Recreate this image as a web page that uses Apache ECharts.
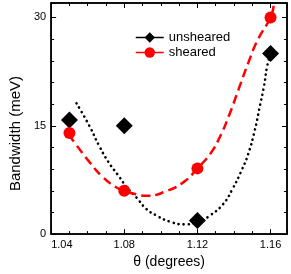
<!DOCTYPE html>
<html>
<head>
<meta charset="utf-8">
<script src="https://cdn.jsdelivr.net/npm/echarts@6/dist/echarts.min.js"></script>
<style>
html,body{margin:0;padding:0;background:#fff;}
#c{width:291px;height:274px;}
</style>
</head>
<body>
<div id="c"></div>
<script>
// Measured points
const unshearedX = [1.05, 1.08, 1.12, 1.16];
const unshearedY = [15.8, 15.0, 1.9, 25.0];
const shearedX = [1.05, 1.08, 1.12, 1.16];
const shearedY = [14.0, 6.0, 9.1, 30.0];

// Fit curves
const unshearedFitX = [1.0539, 1.0609, 1.0661, 1.0713, 1.0765, 1.0817, 1.0869, 1.0920, 1.0974, 1.1052, 1.1130, 1.1200, 1.1270, 1.1339, 1.1391, 1.1443, 1.1478, 1.1513, 1.1539, 1.1565, 1.1582, 1.1600];
const unshearedFitY = [18.1, 15.0, 12.3, 10.0, 8.2, 6.4, 5.0, 3.5, 2.6, 1.7, 1.35, 1.6, 2.6, 4.1, 6.2, 8.9, 11.1, 14.3, 17.4, 20.6, 23.3, 24.9];
const shearedFitX = [1.0496, 1.0539, 1.0609, 1.0678, 1.0748, 1.0800, 1.0869, 1.0920, 1.1025, 1.1130, 1.1200, 1.1270, 1.1322, 1.1374, 1.1426, 1.1478, 1.1530, 1.1600, 1.1617];
const shearedFitY = [13.8, 12.3, 10.0, 8.0, 6.6, 6.0, 5.5, 5.3, 5.9, 7.3, 9.1, 11.1, 13.4, 16.5, 20.1, 23.7, 26.9, 30.0, 31.6];

const seriesNames = ['unsheared', 'sheared'];
const xTickLabels = ['1.04', '1.08', '1.12', '1.16'];
const yTickLabels = ['0', '15', '30'];

const zip = (xs, ys) => xs.map((x, i) => [x, ys[i]]);

const XMIN = 1.04, XMAX = 1.169, YMIN = 0, YMAX = 32;
const font = 'Liberation Sans, Arial, sans-serif';

function xAx(pos, labels) {
  return {
    type: 'value', show: true, position: pos, min: XMIN, max: XMAX, interval: 0.04,
    axisLine: { show: true, onZero: false, lineStyle: { color: '#000', width: 1.5 } },
    axisTick: { show: true, inside: true, length: 5, lineStyle: { color: '#000', width: 1 } },
    minorTick: { show: true, splitNumber: 4, length: 3, lineStyle: { color: '#000', width: 1 } },
    axisLabel: {
      show: labels, color: '#000', fontFamily: font, fontSize: 11, margin: 5,
      showMaxLabel: false, alignMinLabel: 'left',
      formatter: v => { const s = v.toFixed(2); return xTickLabels.indexOf(s) >= 0 ? s : ''; }
    },
    splitLine: { show: false },
    name: labels ? 'θ (degrees)' : '', nameLocation: 'middle', nameGap: 19,
    nameTextStyle: { color: '#000', fontFamily: font, fontSize: 14 }
  };
}
function yAx(pos, labels) {
  return {
    type: 'value', show: true, position: pos, min: YMIN, max: YMAX, interval: 15,
    axisLine: { show: true, onZero: false, lineStyle: { color: '#000', width: 1.5 } },
    axisTick: { show: true, inside: true, length: 5, lineStyle: { color: '#000', width: 1 } },
    minorTick: { show: true, splitNumber: 5, length: 3, lineStyle: { color: '#000', width: 1 } },
    axisLabel: {
      show: labels, color: '#000', fontFamily: font, fontSize: 11, margin: 5,
      showMaxLabel: false,
      formatter: v => { const s = String(Math.round(v)); return (yTickLabels.indexOf(s) >= 0 && Math.abs(v - Math.round(v)) < 1e-6) ? s : ''; }
    },
    splitLine: { show: false },
    name: labels ? 'Bandwidth (meV)' : '', nameLocation: 'middle', nameGap: 22,
    nameTextStyle: { color: '#000', fontFamily: font, fontSize: 15, padding: [0, 30, 0, 0] }
  };
}

const chart = echarts.init(document.getElementById('c'), null, { renderer: 'canvas' });
chart.setOption({
  animation: false,
  backgroundColor: '#fff',
  grid: { left: 40, right: 4, top: 3, bottom: 35, containLabel: false, show: true, borderColor: '#000', borderWidth: 1.5, backgroundColor: 'transparent' },
  xAxis: [xAx('bottom', true), xAx('top', false)],
  yAxis: [yAx('left', true), yAx('right', false)],
  legend: {
    left: 135, top: 31, orient: 'vertical', padding: 0, itemWidth: 28, itemHeight: 13, itemGap: 2,
    textStyle: { color: '#000', fontFamily: font, fontSize: 13 },
    data: [
      { name: seriesNames[0], lineStyle: { color: '#000', width: 1.5, type: 'solid', opacity: 1 } },
      { name: seriesNames[1], lineStyle: { color: '#ff0000', width: 1.5, type: 'solid', opacity: 1 } }
    ]
  },
  series: [
    {
      name: 'unsheared fit', type: 'line', data: zip(unshearedFitX, unshearedFitY), smooth: 0.5,
      showSymbol: false, silent: true,
      lineStyle: { color: '#000', width: 2.6, type: [0.1, 5], cap: 'round' }
    },
    {
      name: 'sheared fit', type: 'line', data: zip(shearedFitX, shearedFitY), smooth: 0.5,
      showSymbol: false, silent: true,
      lineStyle: { color: '#ff0000', width: 2.5, type: [9, 5] }
    },
    {
      name: seriesNames[0], type: 'line', data: zip(unshearedX, unshearedY),
      symbol: 'diamond', symbolSize: 17, itemStyle: { color: '#000' },
      lineStyle: { opacity: 0, color: '#000', width: 1.5 }
    },
    {
      name: seriesNames[1], type: 'line', data: zip(shearedX, shearedY),
      symbol: 'circle', symbolSize: 12, itemStyle: { color: '#ff0000' },
      lineStyle: { opacity: 0, color: '#ff0000', width: 1.5 }
    },
    {
      name: 'frame', type: 'line', data: [], xAxisIndex: 1, yAxisIndex: 1, silent: true, showSymbol: false
    }
  ]
});
</script>
</body>
</html>
